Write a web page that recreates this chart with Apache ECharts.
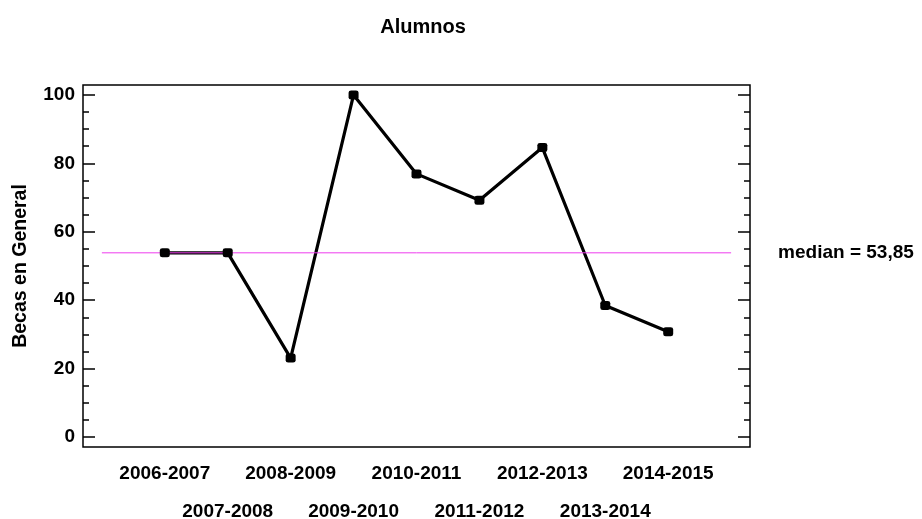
<!DOCTYPE html>
<html>
<head>
<meta charset="utf-8">
<script src="https://cdn.jsdelivr.net/npm/echarts@6/dist/echarts.min.js"></script>
<style>
  html, body { margin: 0; padding: 0; background: #fff; }
  #chart { width: 922px; height: 519px; }
</style>
</head>
<body>
<div id="chart"></div>
<script>
var periods = ['2006-2007', '2007-2008', '2008-2009', '2009-2010', '2010-2011',
               '2011-2012', '2012-2013', '2013-2014', '2014-2015'];
var becas = [53.85, 53.85, 23.08, 100, 76.92, 69.23, 84.62, 38.46, 30.77];
var medianValue = 53.85;
var medianLabel = 'median = 53,85';
var yMajor = [0, 20, 40, 60, 80, 100];
var yMinor = [5, 10, 15, 25, 30, 35, 45, 50, 55, 65, 70, 75, 85, 90, 95];

var font = 'Liberation Sans';
var points = becas.map(function (v, i) { return [i, v]; });
// labels alternate between two rows under the axis
var evenIdx = [], oddIdx = [];
periods.forEach(function (p, i) { (i % 2 ? oddIdx : evenIdx).push(i); });

function yAxisDef(pos, ticks, len, labels) {
    return {
        type: 'value', position: pos, min: -2.9, max: 102.9,
        axisLine: { show: false, onZero: false },
        splitLine: { show: false },
        axisTick: { show: true, inside: true, length: len, customValues: ticks,
                    lineStyle: { color: '#000', width: 1.5 } },
        axisLabel: { show: labels, customValues: ticks, margin: 8,
                     color: '#000', fontFamily: font, fontWeight: 'bold', fontSize: 19 }
    };
}

function xAxisDef(idx, margin) {
    return {
        type: 'value', position: 'bottom', min: -1.3, max: 9.3,
        axisLine: { show: false, onZero: false }, axisTick: { show: false }, splitLine: { show: false },
        axisLabel: {
            customValues: idx, margin: margin, color: '#000', fontFamily: font,
            fontWeight: 'bold', fontSize: 19, hideOverlap: false,
            formatter: function (v) { return periods[Math.round(v)]; }
        }
    };
}

var chart = echarts.init(document.getElementById('chart'));
chart.setOption({
    animation: false,
    title: {
        text: 'Alumnos', left: 418, top: 12, textAlign: 'center',
        textStyle: { fontFamily: font, fontWeight: 'bold', fontSize: 20, color: '#000' }
    },
    grid: { left: 83, right: 172, top: 85, bottom: 72, show: true,
            outerBoundsMode: 'none', containLabel: false,
            borderColor: '#000', borderWidth: 1.5, backgroundColor: 'transparent' },
    xAxis: [xAxisDef(evenIdx, 17), xAxisDef(oddIdx, 55)],
    yAxis: [
        Object.assign(yAxisDef('left', yMajor, 12, true), {
            name: 'Becas en General', nameLocation: 'middle', nameGap: 52,
            nameTextStyle: { fontFamily: font, fontWeight: 'bold', fontSize: 19.5, color: '#000' }
        }),
        yAxisDef('left', yMinor, 6, false),
        yAxisDef('right', yMajor, 12, false),
        yAxisDef('right', yMinor, 6, false)
    ],
    series: [
        {
            type: 'line', data: points,
            symbol: 'roundRect', symbolSize: [10, 9],
            lineStyle: { color: '#000', width: 3.2 },
            itemStyle: { color: '#000' }
        },
        {
            type: 'line', data: [[-1, medianValue], [9, medianValue]],
            symbol: 'none', lineStyle: { color: '#ee3cee', width: 1 },
            endLabel: { show: true, formatter: medianLabel, distance: 47, color: '#000',
                        fontFamily: font, fontWeight: 'bold', fontSize: 19 }
        }
    ]
});
</script>
</body>
</html>
